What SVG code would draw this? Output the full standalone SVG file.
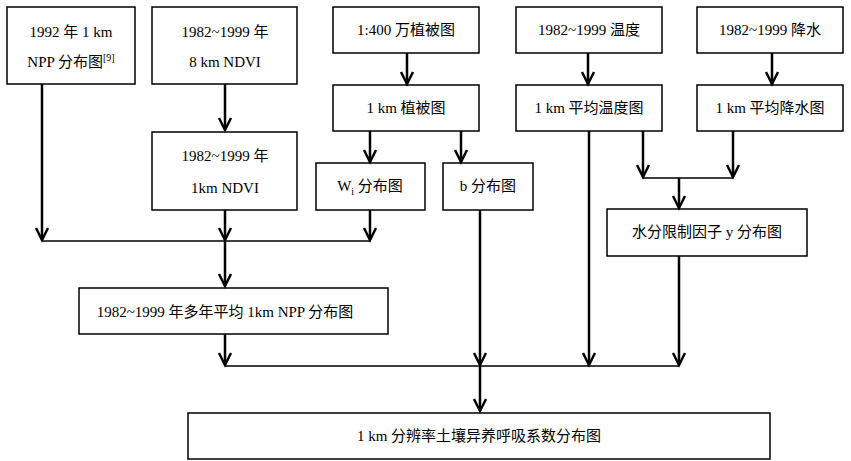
<svg xmlns="http://www.w3.org/2000/svg" width="851" height="461" viewBox="0 0 851 461">
<style>
  .box { fill: #ffffff; stroke: #000000; stroke-width: 1.5; }
  .t { font-family: "Liberation Serif", "Noto Sans CJK SC", serif; font-size: 15px; fill: #000000; text-anchor: middle; }
  .arr { fill: none; stroke: #000000; stroke-width: 2.5; marker-end: url(#ah); }
  .hl { fill: none; stroke: #000000; stroke-width: 1.5; }
</style>
<defs>
  <marker id="ah" markerUnits="userSpaceOnUse" markerWidth="18" markerHeight="18" viewBox="-15 -9 18 18" refX="0" refY="0" orient="auto">
    <path d="M-12,-6 L0,0 L-12,6" fill="none" stroke="#000000" stroke-width="2.5" stroke-linejoin="miter"/>
  </marker>
</defs>
<rect width="851" height="461" fill="#ffffff"/>

<g id="n1">
  <rect class="box" x="7" y="7" width="128" height="77"/>
  <text class="t" x="71" y="37">1992 年 1 km</text>
  <text class="t" x="71" y="67">NPP 分布图<tspan font-size="10" dy="-6">[9]</tspan></text>
</g>
<g id="n2">
  <rect class="box" x="152" y="7" width="145" height="77"/>
  <text class="t" x="225" y="37">1982~1999 年</text>
  <text class="t" x="225" y="67">8 km NDVI</text>
</g>
<g id="n3">
  <rect class="box" x="333" y="7" width="146" height="46"/>
  <text class="t" x="406" y="35">1:400 万植被图</text>
</g>
<g id="n4">
  <rect class="box" x="516" y="7" width="146" height="46"/>
  <text class="t" x="589" y="35">1982~1999 温度</text>
</g>
<g id="n5">
  <rect class="box" x="697" y="7" width="146" height="46"/>
  <text class="t" x="770" y="35">1982~1999 降水</text>
</g>
<g id="n6">
  <rect class="box" x="333" y="85" width="146" height="46"/>
  <text class="t" x="406" y="113">1 km 植被图</text>
</g>
<g id="n7">
  <rect class="box" x="516" y="85" width="146" height="46"/>
  <text class="t" x="589" y="113">1 km 平均温度图</text>
</g>
<g id="n8">
  <rect class="box" x="697" y="85" width="146" height="46"/>
  <text class="t" x="770" y="113">1 km 平均降水图</text>
</g>
<g id="n9">
  <rect class="box" x="152" y="132" width="145" height="78"/>
  <text class="t" x="225" y="161">1982~1999 年</text>
  <text class="t" x="225" y="193">1km NDVI</text>
</g>
<g id="n10">
  <rect class="box" x="316" y="163" width="109" height="47"/>
  <text class="t" x="370" y="191">W<tspan font-size="10" dy="4">i</tspan><tspan dy="-4"> 分布图</tspan></text>
</g>
<g id="n11">
  <rect class="box" x="443" y="163" width="90" height="47"/>
  <text class="t" x="488" y="191">b 分布图</text>
</g>
<g id="n12">
  <rect class="box" x="607" y="209" width="200" height="47"/>
  <text class="t" x="707" y="237">水分限制因子 y 分布图</text>
</g>
<g id="n13">
  <rect class="box" x="79" y="288" width="309" height="46"/>
  <text class="t" x="225" y="317">1982~1999 年多年平均 1km NPP 分布图</text>
</g>
<g id="n14">
  <rect class="box" x="188" y="413" width="582" height="46"/>
  <text class="t" x="479" y="441">1 km 分辨率土壤异养呼吸系数分布图</text>
</g>

<g id="connectors">
  <line class="arr" x1="42" y1="84" x2="42" y2="240"/>
  <line class="arr" x1="225" y1="84" x2="225" y2="130"/>
  <line class="arr" x1="407" y1="53" x2="407" y2="84"/>
  <line class="arr" x1="588" y1="53" x2="588" y2="84"/>
  <line class="arr" x1="772" y1="53" x2="772" y2="84"/>
  <line class="arr" x1="370" y1="131" x2="370" y2="162"/>
  <line class="arr" x1="461" y1="131" x2="461" y2="162"/>
  <line class="arr" x1="225" y1="210" x2="225" y2="240"/>
  <line class="arr" x1="370" y1="210" x2="370" y2="240"/>
  <line class="hl" x1="42" y1="241" x2="371" y2="241"/>
  <line class="arr" x1="225" y1="241" x2="225" y2="286"/>
  <line class="arr" x1="643" y1="131" x2="643" y2="177"/>
  <line class="arr" x1="733" y1="131" x2="733" y2="177"/>
  <line class="hl" x1="643" y1="178" x2="733" y2="178"/>
  <line class="arr" x1="679" y1="178" x2="679" y2="208"/>
  <line class="arr" x1="225" y1="334" x2="225" y2="365"/>
  <line class="arr" x1="480" y1="210" x2="480" y2="365"/>
  <line class="arr" x1="589" y1="131" x2="589" y2="365"/>
  <line class="arr" x1="679" y1="256" x2="679" y2="365"/>
  <line class="hl" x1="225" y1="366" x2="679" y2="366"/>
  <line class="arr" x1="480" y1="366" x2="480" y2="411"/>
</g>
</svg>
